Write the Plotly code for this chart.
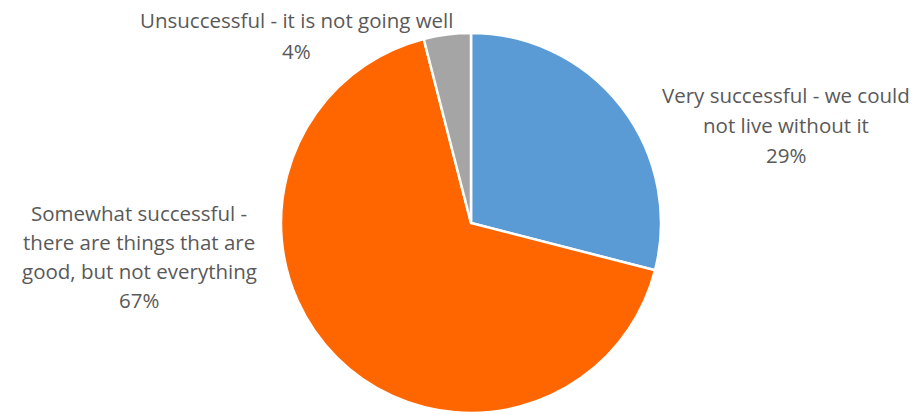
import plotly.graph_objects as go

categories = [
    "Very successful - we could not live without it",
    "Somewhat successful - there are things that are good, but not everything",
    "Unsuccessful - it is not going well",
]
shares = [29, 67, 4]
colors = ["#5B9BD5", "#FF6600", "#A5A5A5"]

# Label lines as they are wrapped beside each slice
label_lines = [
    ["Very successful - we could", "not live without it"],
    ["Somewhat successful -", "there are things that are", "good, but not everything"],
    ["Unsuccessful - it is not going well"],
]
# (center x px, first line y px) for each label block
label_anchor = [(786, 95), (139, 213), (296, 20)]
line_step = [30, 29, 31]

W, H = 917, 414

fig = go.Figure(
    go.Pie(
        labels=categories,
        values=shares,
        sort=False,
        direction="clockwise",
        rotation=0,
        marker=dict(colors=colors, line=dict(color="white", width=2.5)),
        textinfo="none",
        hoverinfo="label+percent",
        showlegend=False,
        domain=dict(x=[281 / W, 661 / W], y=[1 - 413 / H, 1 - 33 / H]),
    )
)

annotations = []
for lines, val, (cx, y0), step in zip(label_lines, shares, label_anchor, line_step):
    for i, txt in enumerate(lines + [f"{val}%"]):
        annotations.append(
            dict(
                text=txt,
                x=cx / W,
                y=1 - (y0 + i * step) / H,
                xref="paper",
                yref="paper",
                xanchor="center",
                yanchor="middle",
                showarrow=False,
                font=dict(family="Open Sans", size=20.5, color="#595959"),
            )
        )

fig.update_layout(
    width=W,
    height=H,
    margin=dict(l=0, r=0, t=0, b=0),
    paper_bgcolor="white",
    plot_bgcolor="white",
    annotations=annotations,
)

fig.write_html("out.html")
